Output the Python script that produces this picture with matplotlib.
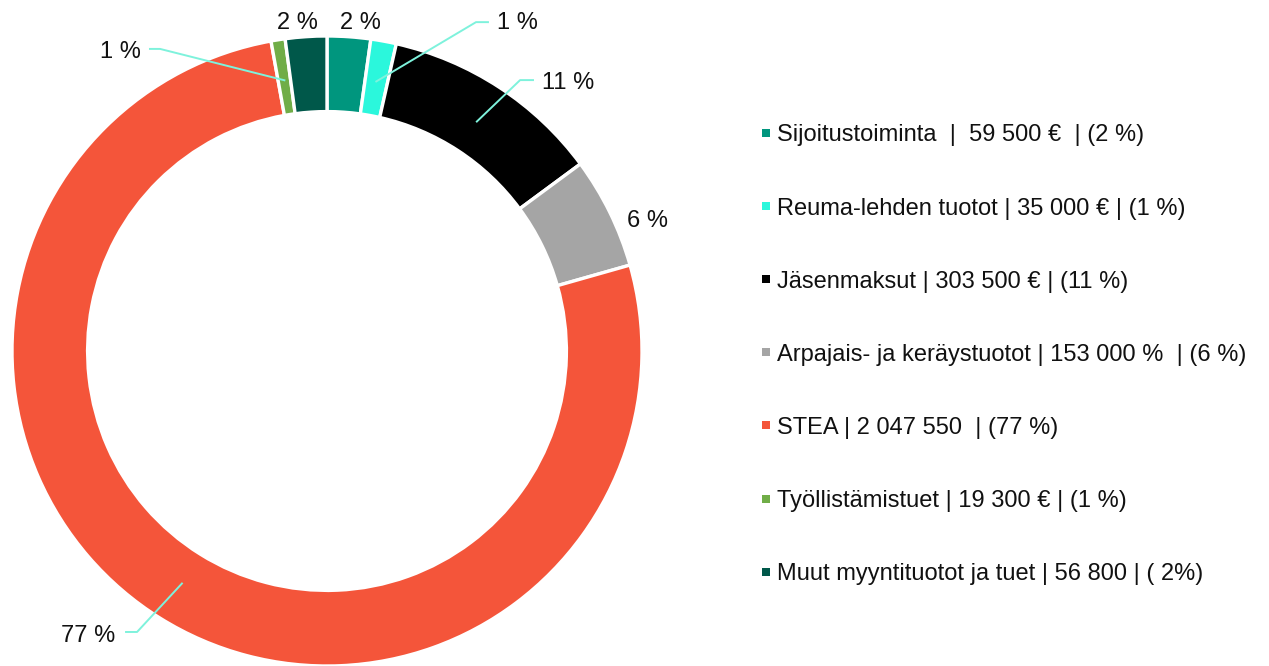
import matplotlib.pyplot as plt
import numpy as np

plt.rcParams['font.family'] = ['Liberation Sans', 'DejaVu Sans']

# data
categories = ['Sijoitustoiminta', 'Reuma-lehden tuotot', 'Jäsenmaksut',
              'Arpajais- ja keräystuotot', 'STEA', 'Työllistämistuet',
              'Muut myyntituotot ja tuet']
values = [59500, 35000, 303500, 153000, 2047550, 19300, 56800]
legend_labels = [
    'Sijoitustoiminta  |  59 500 €  | (2 %)',
    'Reuma-lehden tuotot | 35 000 € | (1 %)',
    'Jäsenmaksut | 303 500 € | (11 %)',
    'Arpajais- ja keräystuotot | 153 000 %  | (6 %)',
    'STEA | 2 047 550  | (77 %)',
    'Työllistämistuet | 19 300 € | (1 %)',
    'Muut myyntituotot ja tuet | 56 800 | ( 2%)',
]
colors = ['#00967E', '#2BF7DC', '#000000', '#A5A5A5', '#F4553A', '#70AD47', '#00584A']

W, H = 1269, 666
fig = plt.figure(figsize=(W / 100, H / 100), dpi=100)
ax = fig.add_axes([12 / W, 0, 630 / W, 630 / H])

wedges, _ = ax.pie(values, colors=colors, startangle=90, counterclock=False,
                   radius=1, wedgeprops=dict(width=0.24, edgecolor='white', linewidth=2.4))
ax.set_xlim(-1, 1)
ax.set_ylim(-1, 1)
ax.set_aspect('equal')
ax.axis('off')

total = sum(values)
pct = [f'{round(v / total * 100):d} %' for v in values]

# label positions (text, leader elbow or None)
label_pos = [
    ((0.105, 1.042), None),
    ((0.603, 1.042), (0.473, 1.044, 0.511)),
    ((0.765, 0.851), (0.613, 0.860, 0.654)),
    ((1.016, 0.413), None),
    ((-0.759, -0.904), (-0.603, -0.892, -0.638)),
    ((-0.657, 0.950), (-0.530, 0.959, -0.562)),
    ((-0.095, 1.042), None),
]
leader_color = '#7EF2DC'
cum = np.cumsum([0] + values[:-1])
for i, (w, (tp, elbow)) in enumerate(zip(wedges, label_pos)):
    ax.text(tp[0], tp[1], pct[i], ha='center', va='center', fontsize=17,
            color='#111111', clip_on=False)
    if elbow is not None:
        mid = np.deg2rad(90 - (cum[i] + values[i] / 2) / total * 360)
        x0, y0 = 0.87 * np.cos(mid), 0.87 * np.sin(mid)
        ax.plot([x0, elbow[0], elbow[2]], [y0, elbow[1], elbow[1]],
                color=leader_color, lw=1.4, clip_on=False)

# legend
lax = fig.add_axes([0, 0, 1, 1])
lax.set_xlim(0, W)
lax.set_ylim(H, 0)
lax.axis('off')
y0, dy = 133, 73.1
for i, lab in enumerate(legend_labels):
    y = y0 + i * dy
    lax.scatter([766], [y], marker='s', s=36, color=colors[i], linewidths=0)
    lax.text(777, y + 2.5, lab, ha='left', va='center', fontsize=17, color='#111111')

fig.savefig('out.png', dpi=100)
